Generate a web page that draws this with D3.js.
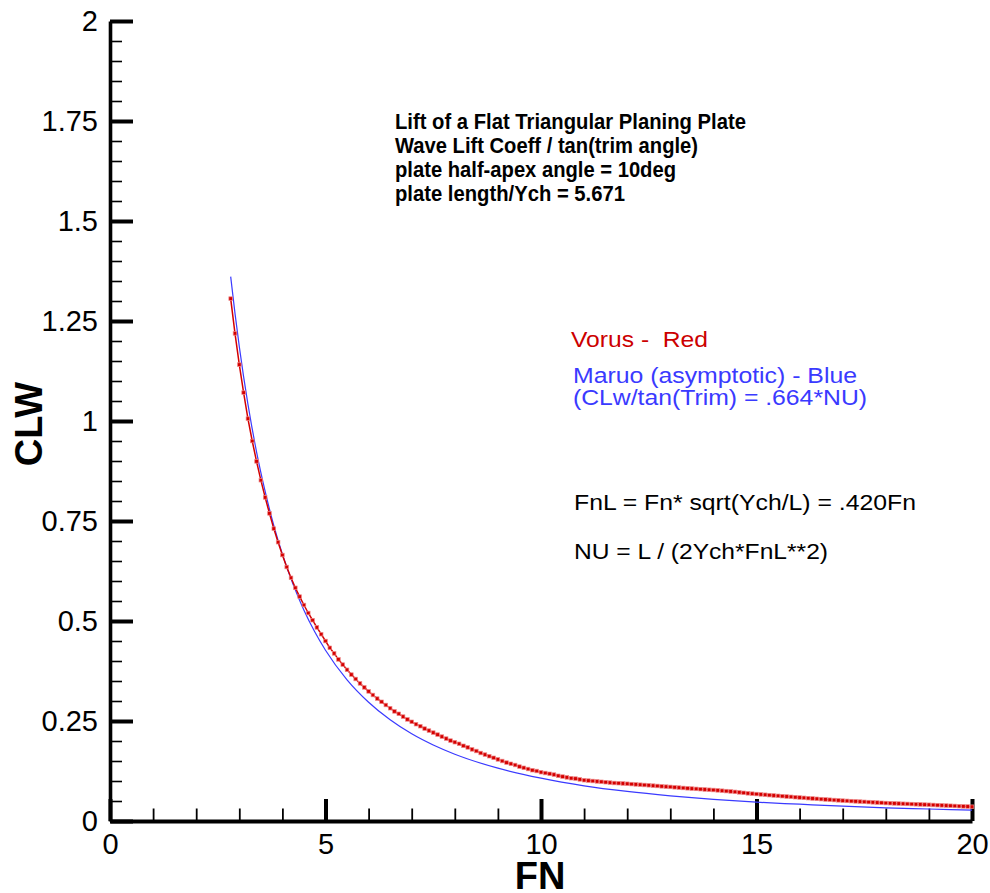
<!DOCTYPE html>
<html>
<head>
<meta charset="utf-8">
<script src="https://cdn.jsdelivr.net/npm/d3@7"></script>
<style>
  html, body { margin: 0; padding: 0; background: #ffffff; }
  svg { display: block; }
  text { font-family: "Liberation Sans", Arial, Helvetica, sans-serif; white-space: pre; }
</style>
</head>
<body>
<script>
// ---------- DATA ----------
const xTickValues = [0, 5, 10, 15, 20];
const xTickLabels = ["0", "5", "10", "15", "20"];
const yTickValues = [0, 0.25, 0.5, 0.75, 1, 1.25, 1.5, 1.75, 2];
const yTickLabels = ["0", "0.25", "0.5", "0.75", "1", "1.25", "1.5", "1.75", "2"];

// Vorus (red, with markers)
const fnRed = [
  2.8, 2.9,
  3.0, 3.1, 3.2, 3.3, 3.4, 3.5, 3.6, 3.7, 3.8, 3.9,
  4.0, 4.1, 4.2, 4.3, 4.4, 4.5, 4.6, 4.7, 4.8, 4.9,
  5.0, 5.1, 5.2, 5.3, 5.4, 5.5, 5.6, 5.7, 5.8, 5.9,
  6.0, 6.1, 6.2, 6.3, 6.4, 6.5, 6.6, 6.7, 6.8, 6.9,
  7.0, 7.1, 7.2, 7.3, 7.4, 7.5, 7.6, 7.7, 7.8, 7.9,
  8.0, 8.1, 8.2, 8.3, 8.4, 8.5, 8.6, 8.7, 8.8, 8.9,
  9.0, 9.1, 9.2, 9.3, 9.4, 9.5, 9.6, 9.7, 9.8, 9.9,
  10.0, 10.1, 10.2, 10.3, 10.4, 10.5, 10.6, 10.7, 10.8, 10.9,
  11.0, 11.1, 11.2, 11.3, 11.4, 11.5, 11.6, 11.7, 11.8, 11.9,
  12.0, 12.1, 12.2, 12.3, 12.4, 12.5, 12.6, 12.7, 12.8, 12.9,
  13.0, 13.1, 13.2, 13.3, 13.4, 13.5, 13.6, 13.7, 13.8, 13.9,
  14.0, 14.1, 14.2, 14.3, 14.4, 14.5, 14.6, 14.7, 14.8, 14.9,
  15.0, 15.1, 15.2, 15.3, 15.4, 15.5, 15.6, 15.7, 15.8, 15.9,
  16.0, 16.1, 16.2, 16.3, 16.4, 16.5, 16.6, 16.7, 16.8, 16.9,
  17.0, 17.1, 17.2, 17.3, 17.4, 17.5, 17.6, 17.7, 17.8, 17.9,
  18.0, 18.1, 18.2, 18.3, 18.4, 18.5, 18.6, 18.7, 18.8, 18.9,
  19.0, 19.1, 19.2, 19.3, 19.4, 19.5, 19.6, 19.7, 19.8, 19.9,
  20.0
];
const clwRed = [
  1.306, 1.219,
  1.141, 1.071, 1.006, 0.950, 0.899, 0.852, 0.809, 0.769, 0.731, 0.697,
  0.665, 0.635, 0.608, 0.583, 0.561, 0.540, 0.520, 0.502, 0.484, 0.467,
  0.450, 0.433, 0.419, 0.404, 0.391, 0.378, 0.366, 0.355, 0.344, 0.334,
  0.324, 0.315, 0.306, 0.298, 0.290, 0.282, 0.274, 0.268, 0.261, 0.254,
  0.248, 0.242, 0.237, 0.231, 0.226, 0.221, 0.216, 0.211, 0.206, 0.201,
  0.197, 0.193, 0.188, 0.184, 0.179, 0.175, 0.170, 0.166, 0.162, 0.158,
  0.154, 0.150, 0.146, 0.143, 0.140, 0.136, 0.133, 0.130, 0.127, 0.125,
  0.122, 0.120, 0.118, 0.116, 0.113, 0.111, 0.109, 0.107, 0.106, 0.104,
  0.102, 0.101, 0.100, 0.099, 0.098, 0.097, 0.096, 0.095, 0.0945, 0.0938,
  0.0931, 0.0923, 0.0915, 0.0907, 0.0900, 0.0893, 0.0884, 0.0876, 0.0867, 0.0859,
  0.0852, 0.0843, 0.0835, 0.0826, 0.0818, 0.0811, 0.0803, 0.0796, 0.0788, 0.0781,
  0.0775, 0.0766, 0.0757, 0.0748, 0.0739, 0.0728, 0.0716, 0.0704, 0.0692, 0.0683,
  0.0674, 0.0665, 0.0656, 0.0647, 0.0638, 0.0629, 0.0621, 0.0612, 0.0604, 0.0595,
  0.0587, 0.0579, 0.0571, 0.0563, 0.0555, 0.0547, 0.0539, 0.0532, 0.0524, 0.0517,
  0.0509, 0.0503, 0.0497, 0.0491, 0.0485, 0.0479, 0.0473, 0.0467, 0.0461, 0.0455,
  0.0449, 0.0445, 0.0440, 0.0436, 0.0431, 0.0427, 0.0423, 0.0418, 0.0414, 0.0410,
  0.0406, 0.0401, 0.0396, 0.0391, 0.0386, 0.0381, 0.0376, 0.0371, 0.0366, 0.0362,
  0.0357
];

// Maruo asymptotic (blue line)
const fnBlue = [2.8, 2.9, 3.0, 3.2, 3.4, 3.6, 3.8, 4.0, 4.25, 4.5, 4.75, 5.0, 5.5, 6.0, 6.5, 7.0, 7.5, 8.0, 9.0, 10.0, 11.0, 12.0, 13.0, 14.0, 15.0, 16.0, 17.0, 18.0, 19.0, 20.0];
const clwBlue = [1.361, 1.269, 1.186, 1.042, 0.923, 0.824, 0.739, 0.667, 0.591, 0.527, 0.473, 0.427, 0.353, 0.297, 0.253, 0.218, 0.190, 0.167, 0.132, 0.107, 0.088, 0.074, 0.063, 0.054, 0.047, 0.042, 0.037, 0.033, 0.030, 0.027];

const titleLines = [
  "Lift of a Flat Triangular Planing Plate",
  "Wave Lift Coeff / tan(trim angle)",
  "plate half-apex angle = 10deg",
  "plate length/Ych = 5.671"
];
const redNote = "Vorus -  Red";
const blueNotes = ["Maruo (asymptotic) - Blue", "(CLw/tan(Trim) = .664*NU)"];
const blackNotes = ["FnL = Fn* sqrt(Ych/L) = .420Fn", "NU = L / (2Ych*FnL**2)"];

// ---------- DRAW ----------
const W = 990, H = 893;
const svg = d3.select("body").append("svg").attr("width", W).attr("height", H);

const x = d3.scaleLinear().domain([0, 20]).range([110, 972]);
const y = d3.scaleLinear().domain([0, 2]).range([821, 21]);

// minor ticks
const yMinor = d3.range(0, 2.0001, 0.05).filter(v => Math.abs(v / 0.25 - Math.round(v / 0.25)) > 1e-6);
const xMinor = d3.range(0, 20.0001, 1).filter(v => v % 5 !== 0);

const gyMinor = svg.append("g").attr("transform", "translate(110,0)")
  .call(d3.axisLeft(y).tickValues(yMinor).tickSize(-12).tickFormat(""));
gyMinor.select(".domain").remove();
gyMinor.selectAll(".tick line").attr("stroke", "#000").attr("stroke-width", 1.6);

const gxMinor = svg.append("g").attr("transform", "translate(0,821)")
  .call(d3.axisBottom(x).tickValues(xMinor).tickSize(-12.5).tickFormat(""));
gxMinor.select(".domain").remove();
gxMinor.selectAll(".tick line").attr("stroke", "#000").attr("stroke-width", 1.8);

// major axes
const gy = svg.append("g").attr("transform", "translate(110,0)")
  .call(d3.axisLeft(y).tickValues(yTickValues).tickFormat((d, i) => yTickLabels[i])
    .tickSize(-23).tickSizeOuter(0).tickPadding(12));
gy.select(".domain").attr("stroke", "#000").attr("stroke-width", 3.6);
gy.selectAll(".tick line").attr("stroke", "#000").attr("stroke-width", 4);
gy.selectAll(".tick text").attr("font-size", 29).attr("fill", "#000")
  .attr("font-family", "'Liberation Sans', Arial, sans-serif");

const gx = svg.append("g").attr("transform", "translate(0,821)")
  .call(d3.axisBottom(x).tickValues(xTickValues).tickFormat((d, i) => xTickLabels[i])
    .tickSize(-22).tickSizeOuter(0).tickPadding(12));
gx.select(".domain").attr("stroke", "#000").attr("stroke-width", 4);
gx.selectAll(".tick line").attr("stroke", "#000").attr("stroke-width", 4);
gx.selectAll(".tick text").attr("font-size", 29).attr("fill", "#000")
  .attr("font-family", "'Liberation Sans', Arial, sans-serif");

// axis titles
svg.append("text")
  .attr("transform", "translate(41.5,424) rotate(-90)")
  .attr("text-anchor", "middle")
  .attr("font-weight", "bold").attr("font-size", 38).attr("fill", "#000")
  .text("CLW");
svg.append("text")
  .attr("x", 540).attr("y", 889)
  .attr("text-anchor", "middle")
  .attr("font-weight", "bold").attr("font-size", 38).attr("fill", "#000")
  .text("FN");

// curves
const blueData = fnBlue.map((f, i) => ({ f, v: clwBlue[i] }));
const redData = fnRed.map((f, i) => ({ f, v: clwRed[i] }));

svg.append("path")
  .datum(blueData)
  .attr("fill", "none").attr("stroke", "#3a3aff").attr("stroke-width", 1.2)
  .attr("d", d3.line().x(d => x(d.f)).y(d => y(d.v)).curve(d3.curveMonotoneX));

svg.append("path")
  .datum(redData)
  .attr("fill", "none").attr("stroke", "#d40000").attr("stroke-width", 1.5)
  .attr("d", d3.line().x(d => x(d.f)).y(d => y(d.v)));

const ms = 3.6;
svg.append("g").selectAll("rect")
  .data(redData).join("rect")
  .attr("x", d => x(d.f) - ms / 2).attr("y", d => y(d.v) - ms / 2)
  .attr("width", ms).attr("height", ms)
  .attr("fill", "#d40000").attr("stroke", "#ee8888").attr("stroke-width", 0.7);

// annotations
function note(str, px, py, size, weight, color, len) {
  svg.append("text")
    .attr("x", px).attr("y", py)
    .attr("font-size", size).attr("font-weight", weight).attr("fill", color)
    .attr("textLength", len).attr("lengthAdjust", "spacingAndGlyphs")
    .text(str);
}
const titleLens = [351, 303, 281, 230];
titleLines.forEach((t, i) => note(t, 395, 129 + 24 * i, 22.5, "bold", "#000", titleLens[i]));
note(redNote, 571, 347, 22, "normal", "#cc0000", 137);
note(blueNotes[0], 573, 383, 21.5, "normal", "#3a3aff", 284);
note(blueNotes[1], 573, 405, 21.5, "normal", "#3a3aff", 294);
note(blackNotes[0], 574, 510, 22, "normal", "#000", 342);
note(blackNotes[1], 574, 558.5, 22, "normal", "#000", 254);
</script>
</body>
</html>
